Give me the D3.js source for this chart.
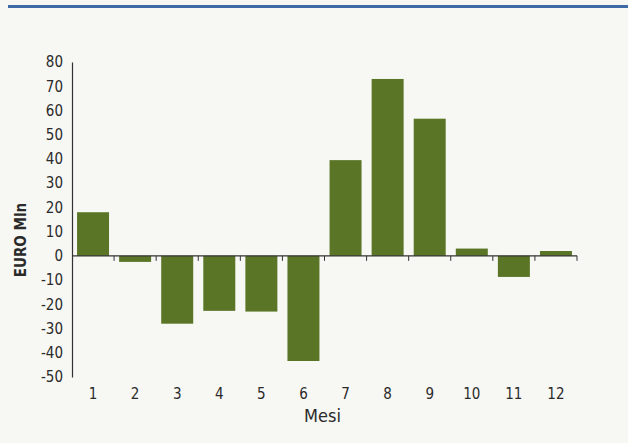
<!DOCTYPE html>
<html>
<head>
<meta charset="utf-8">
<script src="https://cdn.jsdelivr.net/npm/d3@7"></script>
<style>
  body { margin: 0; background: #f7f7f4; }
  svg { display: block; }
  text { font-family: "Liberation Sans Narrow", "DejaVu Sans Condensed", sans-serif; fill: #2a2a2a; }
</style>
</head>
<body>
<svg id="chart" width="628" height="443"></svg>
<script>
"use strict";

// mesi 1..12, saldo in EURO Mln
const mesi = ["1", "2", "3", "4", "5", "6", "7", "8", "9", "10", "11", "12"];
const valori = [18, -2.5, -28, -22.7, -23, -43.4, 39.5, 73, 56.6, 3, -8.7, 2];
const yTicks = [80, 70, 60, 50, 40, 30, 20, 10, 0, -10, -20, -30, -40, -50];

const svg = d3.select("#chart");

// blue rule at the top of the page
svg.append("rect")
  .attr("x", 8).attr("y", 5)
  .attr("width", 620).attr("height", 3)
  .attr("fill", "#3f6aa6");

let margin = {top: 62, left: 72},
  width = 505,
  height = 315,
  g = svg.append("g").attr("transform", "translate(" + margin.left + "," + margin.top + ")"),
  x = d3.scaleBand().domain(mesi).range([0, width]).paddingInner(0.24).paddingOuter(0.12),
  y = d3.scaleLinear().domain([-50, 80]).range([height, 0])
;

// y axis: line + labels, no tick marks (plain hyphen for negatives)
g.append("g")
  .call(d3.axisLeft(y).tickValues(yTicks).tickSize(0).tickPadding(9).tickFormat(d => String(d)))
  .call(s => s.select(".domain").attr("stroke", "#333").attr("stroke-width", 1.2))
  .selectAll("text")
  .style("font-size", "15px");

// bars
g.selectAll(".bar")
  .data(valori)
  .enter().append("rect")
    .attr("class", "bar")
    .attr("x", (d, i) => x(mesi[i]))
    .attr("y", d => y(Math.max(0, d)))
    .attr("width", x.bandwidth())
    .attr("height", d => Math.abs(y(d) - y(0)))
    .attr("fill", "#5a7526");

// zero line with small ticks between months
let bounds = mesi.map((m, i) => (i + 1) * x.step());
g.append("line")
  .attr("x1", 0).attr("x2", width)
  .attr("y1", y(0)).attr("y2", y(0))
  .attr("stroke", "#333").attr("stroke-width", 1.2);
g.selectAll(".tk")
  .data(bounds)
  .enter().append("line")
    .attr("x1", d => d).attr("x2", d => d)
    .attr("y1", y(0)).attr("y2", y(0) + 5)
    .attr("stroke", "#333");

// month labels below the chart
g.selectAll(".mese")
  .data(mesi)
  .enter().append("text")
    .attr("x", d => x(d) + x.bandwidth() / 2)
    .attr("y", height + 22)
    .attr("text-anchor", "middle")
    .style("font-size", "15px")
    .text(d => d);

g.append("text")
  .attr("x", width / 2 - 2)
  .attr("y", height + 45)
  .attr("text-anchor", "middle")
  .style("font-size", "18px")
  .text("Mesi");

svg.append("text")
  .attr("transform", "translate(26,240) rotate(-90)")
  .attr("text-anchor", "middle")
  .style("font-size", "15px")
  .style("font-weight", "bold")
  .text("EURO Mln");
</script>
</body>
</html>
